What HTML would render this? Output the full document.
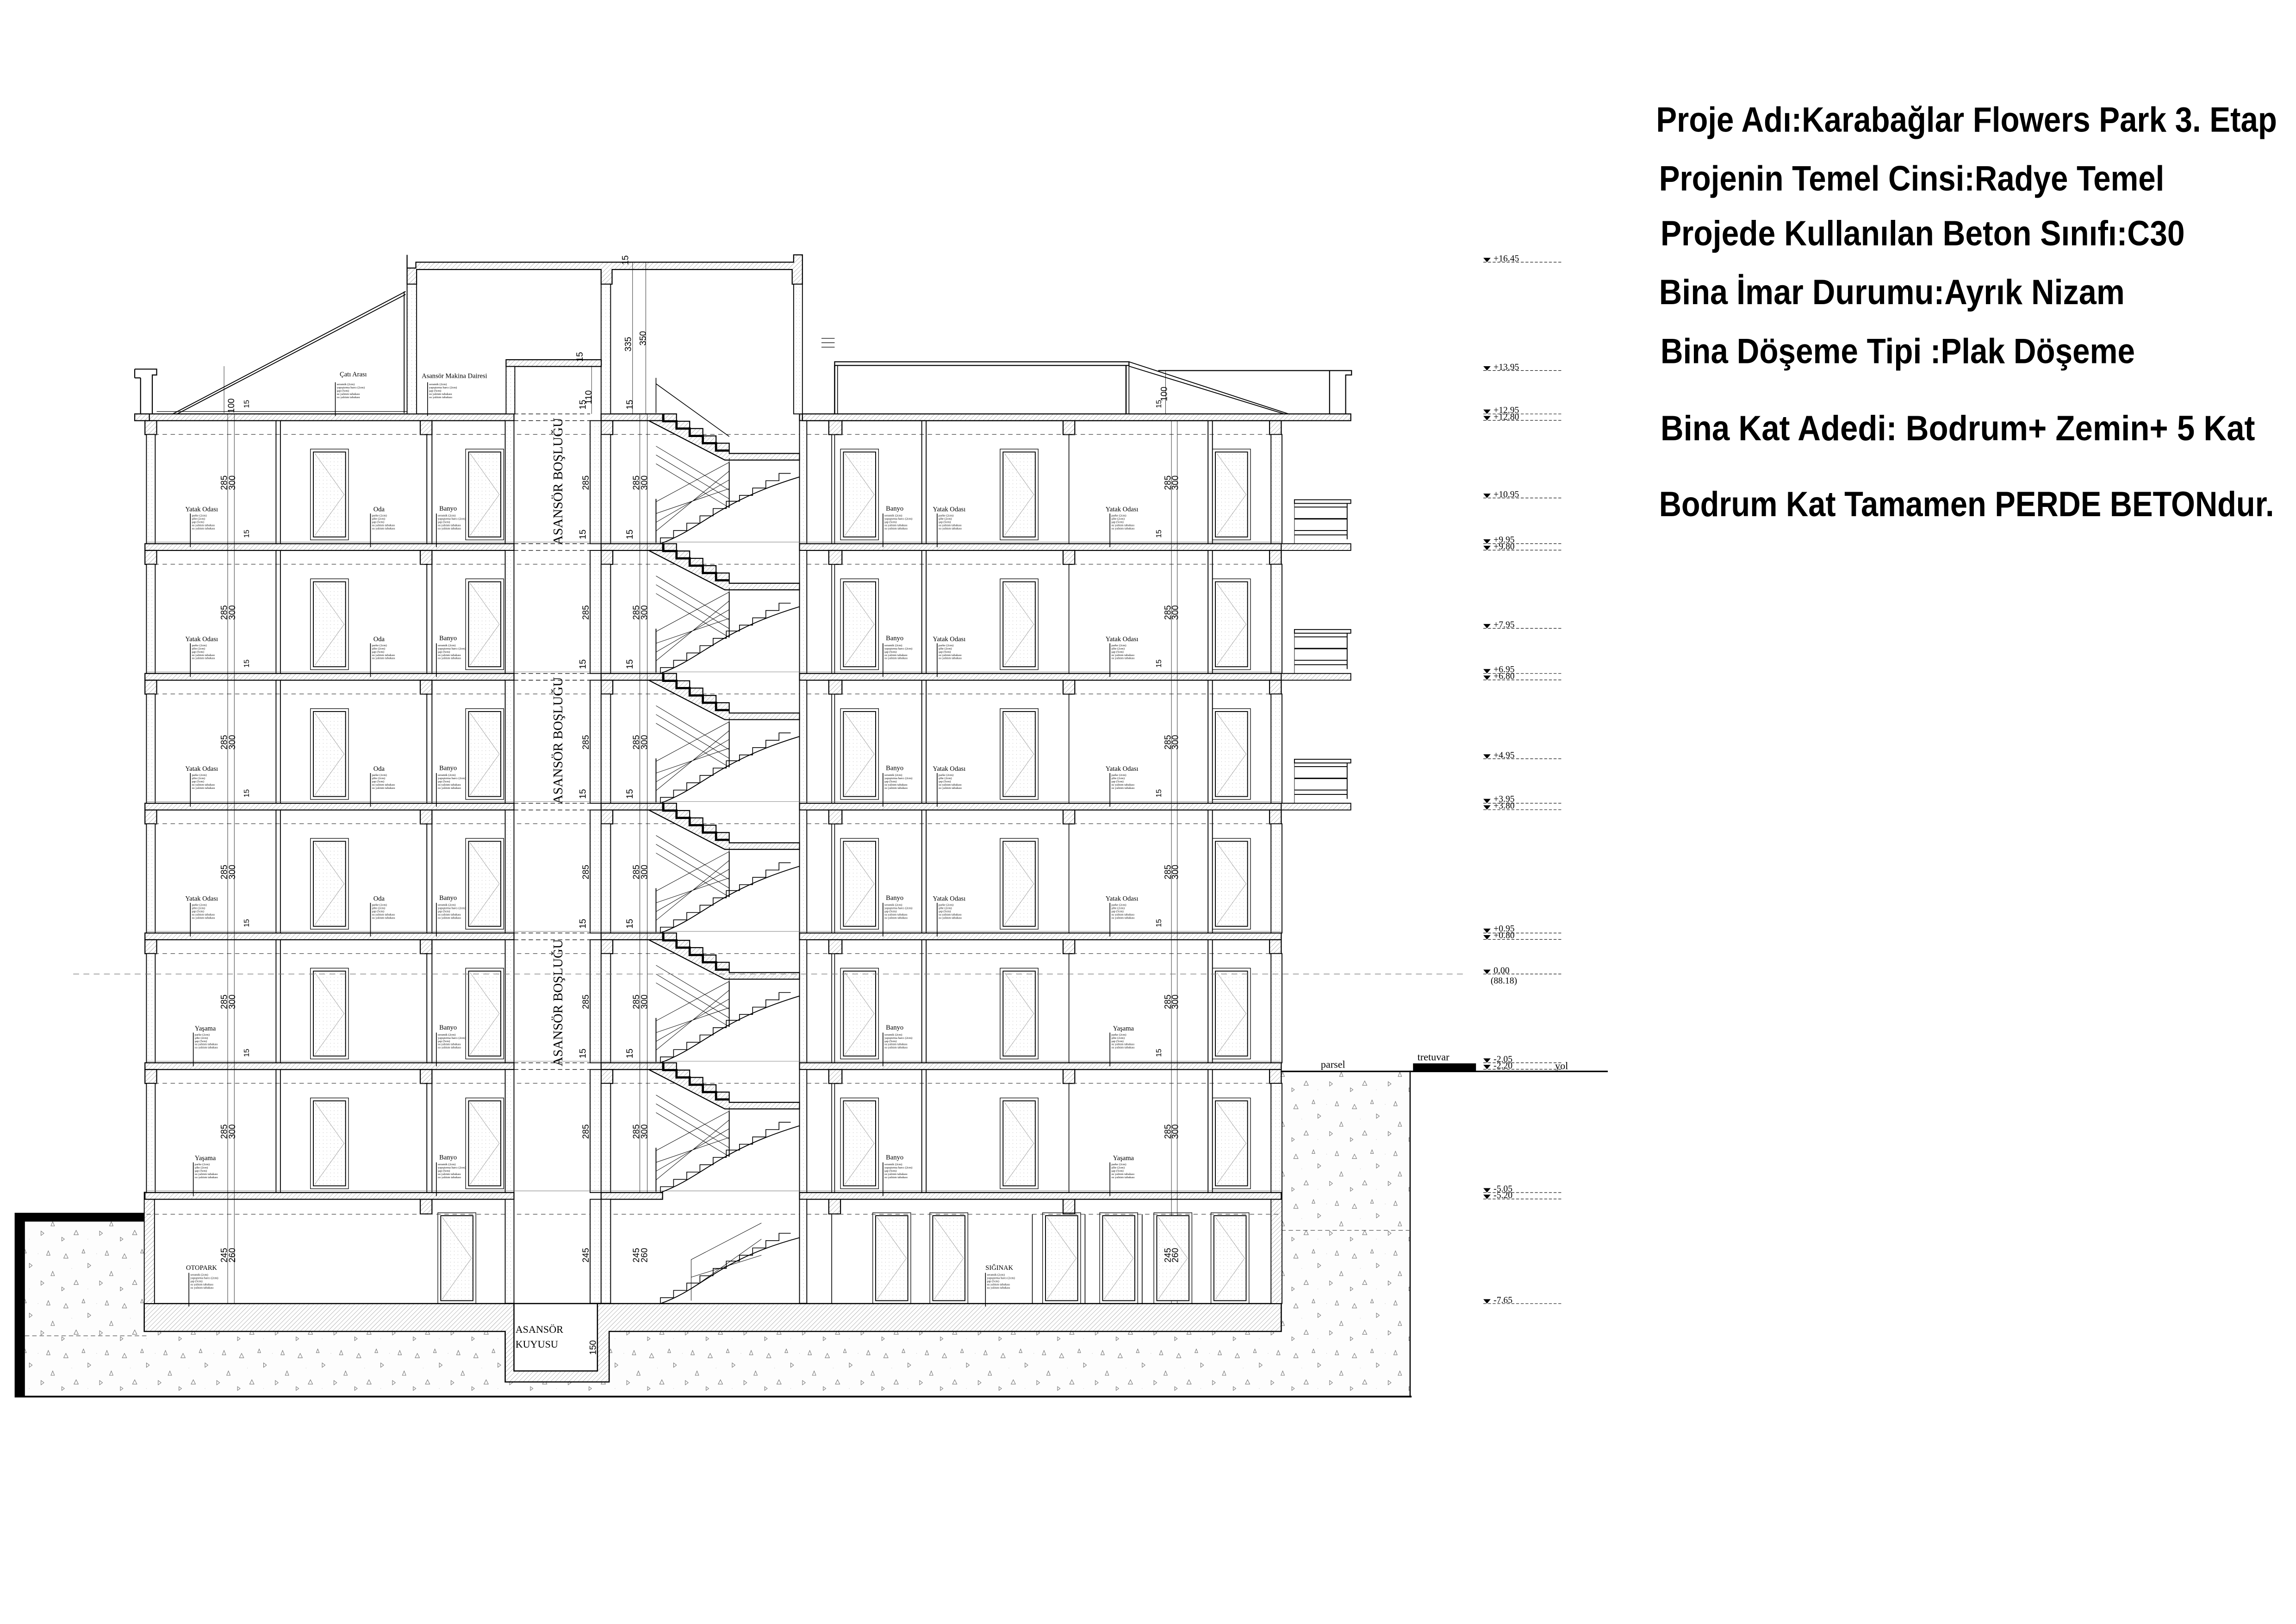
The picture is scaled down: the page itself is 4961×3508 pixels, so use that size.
<!DOCTYPE html>
<html><head><meta charset="utf-8"><style>
html,body{margin:0;padding:0;background:#fff}
svg{display:block}
.t{font-family:"Liberation Serif",serif;fill:#000}
.m{font-family:"Liberation Serif",serif;font-size:2.1px;fill:#000}
.d{font-family:"Liberation Sans",sans-serif;font-size:6px;fill:#000}
.h{font-family:"Liberation Sans Narrow","Liberation Sans",sans-serif;font-size:24px;fill:#000;font-weight:bold}
</style></head><body>
<svg width="4961" height="3508" viewBox="0 0 1568 1108.76" preserveAspectRatio="none" xmlns="http://www.w3.org/2000/svg">
<defs>
<pattern id="hat" width="2.2" height="2.2" patternUnits="userSpaceOnUse" patternTransform="rotate(45)">
<rect width="2.2" height="2.2" fill="#fff"/><line x1="0" y1="0" x2="0" y2="2.2" stroke="#555" stroke-width="0.25"/></pattern>
<pattern id="soil" width="40" height="34" patternUnits="userSpaceOnUse">
<rect width="40" height="34" fill="#fdfdfd"/>
<path d="M5 6l1.5 3h-3zM22 14l-2 1.5v-3zM33 4l1.2 3h-2.4zM12 24l1.5 3h-3zM30 26l-2 1.5v-3zM17 3l1 2.5h-2zM36 18l1.2 3h-2.4zM4 30l-1.8 1.3v-2.6z" fill="none" stroke="#666" stroke-width="0.3"/>
<circle cx="9" cy="16" r="0.2" fill="#bbb"/><circle cx="26" cy="6" r="0.2" fill="#bbb"/><circle cx="20" cy="30" r="0.2" fill="#bbb"/></pattern>
<pattern id="dots" width="2.5" height="2.5" patternUnits="userSpaceOnUse"><rect width="2.5" height="2.5" fill="#fff"/><circle cx="1.2" cy="1.2" r="0.15" fill="#777"/></pattern>

<g id="door">
<rect x="0" y="0" width="26" height="62" fill="none" stroke="#000" stroke-width="0.4"/>
<rect x="2" y="2" width="22" height="58" fill="url(#dots)" stroke="#000" stroke-width="0.6"/>
<path d="M3 3L23 31L3 59" fill="none" stroke="#777" stroke-width="0.2"/>
</g>

<g id="mat">
<line x1="0" y1="0" x2="0" y2="23" stroke="#000" stroke-width="0.5"/>
<text class="m" x="1" y="2">parke (2cm)</text><text class="m" x="1" y="4.2">şilte (2cm)</text><text class="m" x="1" y="6.4">şap (5cm)</text><text class="m" x="1" y="8.6">su yalıtım tabakası</text><text class="m" x="1" y="10.8">ısı yalıtım tabakası</text>
</g>
<g id="matb">
<line x1="0" y1="0" x2="0" y2="23" stroke="#000" stroke-width="0.5"/>
<text class="m" x="1" y="2">seramik (2cm)</text><text class="m" x="1" y="4.2">yapıştırma harcı (2cm)</text><text class="m" x="1" y="6.4">şap (5cm)</text><text class="m" x="1" y="8.6">su yalıtım tabakası</text><text class="m" x="1" y="10.8">ısı yalıtım tabakası</text>
</g>

<g id="fl" stroke="#000" stroke-width="0.7">
<rect x="99" y="0" width="252" height="4.6" fill="url(#hat)"/>
<rect x="410.5" y="0" width="42" height="4.6" fill="url(#hat)"/>
<rect x="546" y="0" width="329" height="4.6" fill="url(#hat)"/>
<line x1="351" y1="0" x2="403" y2="0" stroke-dasharray="3 2" stroke-width="0.4"/>
<line x1="351" y1="4.6" x2="403" y2="4.6" stroke-dasharray="3 2" stroke-width="0.4"/>
<rect x="99" y="4.6" width="8" height="9.5" fill="url(#hat)"/>
<rect x="287" y="4.6" width="8" height="9.5" fill="url(#hat)"/>
<rect x="566" y="4.6" width="9" height="9.5" fill="url(#hat)"/>
<rect x="726" y="4.6" width="8" height="9.5" fill="url(#hat)"/>
<rect x="867" y="4.6" width="8" height="9.5" fill="url(#hat)"/>
<rect x="410.5" y="4.6" width="8" height="9.5" fill="url(#hat)"/>
<line x1="100" y1="14" x2="875" y2="14" stroke-dasharray="3 2.5" stroke-width="0.4" stroke="#444"/>
<rect x="100" y="14" width="6" height="74.6" fill="url(#dots)" stroke-width="0.6"/>
<line x1="188.5" y1="4.6" x2="188.5" y2="88.6" stroke-width="0.6"/><line x1="191.5" y1="4.6" x2="191.5" y2="88.6" stroke-width="0.6"/>
<line x1="291.5" y1="14" x2="291.5" y2="88.6" stroke-width="0.6"/><line x1="295" y1="14" x2="295" y2="88.6" stroke-width="0.6"/>
<rect x="345" y="4.6" width="6" height="84" fill="url(#dots)" stroke-width="0.6"/>
<rect x="403" y="4.6" width="7.5" height="84" fill="url(#dots)" stroke-width="0.6"/>
<rect x="410.5" y="14" width="6.5" height="74.6" fill="url(#dots)" stroke-width="0.6"/>
<rect x="546" y="4.6" width="5" height="84" fill="url(#dots)" stroke-width="0.6"/>
<line x1="568" y1="14" x2="568" y2="88.6" stroke-width="0.5"/><line x1="570" y1="14" x2="570" y2="88.6" stroke-width="0.5"/>
<line x1="629.5" y1="4.6" x2="629.5" y2="88.6" stroke-width="0.6"/><line x1="632.5" y1="4.6" x2="632.5" y2="88.6" stroke-width="0.6"/>
<line x1="730" y1="14" x2="730" y2="88.6" stroke-width="0.5"/>
<line x1="825" y1="4.6" x2="825" y2="88.6" stroke-width="0.6"/><line x1="828" y1="4.6" x2="828" y2="88.6" stroke-width="0.6"/>
<rect x="868" y="14" width="7.5" height="74.6" fill="url(#dots)" stroke-width="0.6"/>
<line x1="100" y1="87.5" x2="875" y2="87.5" stroke-width="0.25" stroke="#666"/>
<line x1="155.5" y1="0" x2="155.5" y2="88.6" stroke-width="0.25"/><line x1="160" y1="0" x2="160" y2="88.6" stroke-width="0.25"/>
<line x1="800" y1="0" x2="800" y2="88.6" stroke-width="0.25"/><line x1="804" y1="0" x2="804" y2="88.6" stroke-width="0.25"/>
<line x1="437" y1="0" x2="437" y2="88.6" stroke-width="0.25"/><line x1="442" y1="0" x2="442" y2="88.6" stroke-width="0.25"/>
</g>
<g id="doors">
<use href="#door" x="212" y="24"/><use href="#door" x="318" y="24"/>
<use href="#door" x="574" y="24"/><use href="#door" x="683" y="24"/><use href="#door" x="828" y="24"/>
</g>
<g id="dims">
<text class="d" transform="translate(155,52) rotate(-90)">285</text>
<text class="d" transform="translate(160.5,52) rotate(-90)">300</text>
<text class="d" transform="translate(402,52) rotate(-90)">285</text>
<text class="d" transform="translate(436.5,52) rotate(-90)">285</text>
<text class="d" transform="translate(442,52) rotate(-90)">300</text>
<text class="d" transform="translate(799.5,52) rotate(-90)">285</text>
<text class="d" transform="translate(804.5,52) rotate(-90)">300</text>
<text class="d" transform="translate(400,-3) rotate(-90)">15</text>
<text class="d" transform="translate(432,-3) rotate(-90)">15</text>
<text class="d" transform="translate(170,-4) rotate(-90)" style="font-size:5px">15</text>
<text class="d" transform="translate(793,-4) rotate(-90)" style="font-size:5px">15</text>
</g>
<g id="st" stroke="#000">
<path d="M443 4.6L453 4.6L453 0L462 0L462 5L471 5L471 10L480 10L480 15L489 15L489 20L498 20L498 27L546 27L546 31.5L495 31.5Z" fill="url(#hat)" stroke-width="0.7"/>
<path d="M453 0v5h9v5h9v5h9v5h9v5h9" fill="none" stroke-width="1.5"/>
<path d="M451 88.6l0-4h9l0-5h9l0-5h9l0-5h9l0-5h9l0-5h9 l0-4h9l0-5h9l0-5h9l0-5h8" fill="none" stroke-width="0.5"/>
<path d="M451 88.6C480 78 490 60 546 43" fill="none" stroke-width="0.6"/>
<path d="M448 86L448 60L498 33M448 80L498 39M448 74L498 45M448 68L498 51" fill="none" stroke-width="0.3"/>
<path d="M448 28L498 58M448 34L498 64M448 22L498 52L498 30" fill="none" stroke-width="0.3"/>
<line x1="448" y1="58" x2="448" y2="88" stroke-width="0.6"/>
<line x1="498" y1="33" x2="498" y2="64" stroke-width="0.6"/>
</g>
<g id="bal" stroke="#000" stroke-width="0.6" fill="none">
<rect x="875" y="0" width="47.5" height="4.6" fill="url(#hat)"/>
<rect x="884" y="-30" width="38.5" height="2.5" fill="#fff"/>
<line x1="884" y1="-30" x2="884" y2="0" stroke-width="0.3"/>
<line x1="920" y1="-27.5" x2="920" y2="-3"/>
<line x1="884" y1="-25" x2="920" y2="-25"/><line x1="884" y1="-17" x2="920" y2="-17" stroke-width="0.9"/>
<line x1="884" y1="-9" x2="920" y2="-9"/><line x1="884" y1="-6" x2="920" y2="-6"/>
</g>
<g id="lab1">
<text class="t" x="126.5" y="66.5" style="font-size:4.6px">Yatak Odası</text><use href="#mat" x="130" y="68"/>
<text class="t" x="255" y="66.5" style="font-size:4.6px">Oda</text><use href="#mat" x="253" y="68"/>
<text class="t" x="300" y="66" style="font-size:4.6px">Banyo</text><use href="#matb" x="298" y="68"/>
<text class="t" x="605" y="66" style="font-size:4.6px">Banyo</text><use href="#matb" x="603" y="68"/>
<text class="t" x="637" y="66.5" style="font-size:4.6px">Yatak Odası</text><use href="#mat" x="640" y="68"/>
<text class="t" x="755" y="66.5" style="font-size:4.6px">Yatak Odası</text><use href="#mat" x="758" y="68"/>
</g>
<g id="lab3">
<text class="t" x="133" y="66.5" style="font-size:4.6px">Yaşama</text><use href="#mat" x="132" y="68"/>
<text class="t" x="300" y="66" style="font-size:4.6px">Banyo</text><use href="#matb" x="298" y="68"/>
<text class="t" x="605" y="66" style="font-size:4.6px">Banyo</text><use href="#matb" x="603" y="68"/>
<text class="t" x="760" y="66.5" style="font-size:4.6px">Yaşama</text><use href="#mat" x="758" y="68"/>
</g>
<g id="lv"><path d="M1013 0h5l-2.5 3z" fill="#000"/><line x1="1013" y1="3" x2="1067" y2="3" stroke="#000" stroke-width="0.35" stroke-dasharray="2 1.2"/></g>
</defs>

<rect width="1568" height="1108.76" fill="#fff"/>

<rect x="17" y="834" width="946" height="119" fill="url(#soil)"/>
<rect x="875" y="731" width="88" height="222" fill="url(#soil)"/>
<line x1="963" y1="731" x2="963" y2="953" stroke="#000" stroke-width="0.8"/>
<line x1="10" y1="953.5" x2="964" y2="953.5" stroke="#000" stroke-width="1.2"/>
<path d="M10 828H100V834H17V953H10Z" fill="#000"/>
<line x1="17" y1="912" x2="100" y2="912" stroke="#555" stroke-width="0.4" stroke-dasharray="3 2"/>
<line x1="875" y1="840" x2="963" y2="840" stroke="#555" stroke-width="0.4" stroke-dasharray="3 2"/>

<rect x="98.5" y="819" width="776.5" height="90" fill="#fff"/>
<path d="M98.5 890H875V909H416V943.5H345V909H98.5Z" fill="url(#hat)" stroke="#000" stroke-width="0.8"/>
<rect x="351" y="890" width="57" height="46" fill="#fff" stroke="#000" stroke-width="0.8"/>
<rect x="98.5" y="814" width="7" height="76" fill="url(#hat)" stroke="#000" stroke-width="0.6"/>
<rect x="868" y="814" width="7.5" height="76" fill="url(#hat)" stroke="#000" stroke-width="0.6"/>
<text class="t" x="352" y="910" style="font-size:7px">ASANSÖR</text>
<text class="t" x="352" y="920" style="font-size:7px">KUYUSU</text>
<text class="d" transform="translate(407,925) rotate(-90)">150</text>

<use href="#fl" y="282.6"/><use href="#fl" y="371.2"/><use href="#fl" y="459.8"/><use href="#fl" y="548.4"/><use href="#fl" y="637"/><use href="#fl" y="725.6"/>
<use href="#doors" y="282.6"/><use href="#doors" y="371.2"/><use href="#doors" y="459.8"/><use href="#doors" y="548.4"/><use href="#doors" y="637"/><use href="#doors" y="725.6"/>
<use href="#dims" y="282.6"/><use href="#dims" y="371.2"/><use href="#dims" y="459.8"/><use href="#dims" y="548.4"/><use href="#dims" y="637"/><use href="#dims" y="725.6"/>
<use href="#st" y="282.6"/><use href="#st" y="371.2"/><use href="#st" y="459.8"/><use href="#st" y="548.4"/><use href="#st" y="637"/><use href="#st" y="725.6"/>

<g stroke="#000" stroke-width="0.7">
<rect x="99" y="814.2" width="252" height="4.6" fill="url(#hat)"/>
<rect x="410.5" y="814.2" width="42" height="4.6" fill="url(#hat)"/>
<rect x="546" y="814.2" width="329" height="4.6" fill="url(#hat)"/>
<rect x="287" y="818.8" width="8" height="10" fill="url(#hat)"/>
<rect x="566" y="818.8" width="8" height="10" fill="url(#hat)"/>
<rect x="726" y="818.8" width="8" height="10" fill="url(#hat)"/>
<line x1="100" y1="829" x2="875" y2="829" stroke-dasharray="3 2.5" stroke-width="0.4" stroke="#444"/>
<rect x="345" y="818.8" width="6" height="71" fill="url(#dots)" stroke-width="0.6"/>
<rect x="403" y="818.8" width="7.5" height="71" fill="url(#dots)" stroke-width="0.6"/>
<rect x="410.5" y="818.8" width="6.5" height="71" fill="url(#dots)" stroke-width="0.6"/>
<rect x="546" y="818.8" width="5" height="71" fill="url(#dots)" stroke-width="0.6"/>
<line x1="568" y1="829" x2="568" y2="890" stroke-width="0.5"/>
<line x1="705" y1="829" x2="705" y2="890" stroke-width="0.5"/><line x1="741" y1="829" x2="741" y2="890" stroke-width="0.5"/><line x1="780" y1="829" x2="780" y2="890" stroke-width="0.5"/>
<line x1="155.5" y1="814" x2="155.5" y2="890" stroke-width="0.25"/><line x1="160" y1="814" x2="160" y2="890" stroke-width="0.25"/>
<line x1="800" y1="814" x2="800" y2="890" stroke-width="0.25"/><line x1="804" y1="814" x2="804" y2="890" stroke-width="0.25"/>
<path d="M451 890l0-4h9l0-5h9l0-5h9l0-5h9l0-5h9l0-5h9 l0-4h9l0-5h9l0-5h9l0-5h8" fill="none" stroke-width="0.5"/>
<path d="M451 890C480 880 490 860 546 845" fill="none" stroke-width="0.6"/>
<path d="M472 888L472 860L520 835M472 880L520 846M472 872L520 857" fill="none" stroke-width="0.3"/>
</g>
<use href="#door" x="299" y="828"/>
<use href="#door" x="596" y="828"/><use href="#door" x="635" y="828"/><use href="#door" x="712" y="828"/><use href="#door" x="751" y="828"/><use href="#door" x="788" y="828"/><use href="#door" x="827" y="828"/>
<text class="d" transform="translate(155,862) rotate(-90)">245</text>
<text class="d" transform="translate(160.5,862) rotate(-90)">260</text>
<text class="d" transform="translate(402,862) rotate(-90)">245</text>
<text class="d" transform="translate(436.5,862) rotate(-90)">245</text>
<text class="d" transform="translate(442,862) rotate(-90)">260</text>
<text class="d" transform="translate(799.5,862) rotate(-90)">245</text>
<text class="d" transform="translate(804.5,862) rotate(-90)">260</text>

<text class="t" transform="translate(384,372) rotate(-90)" style="font-size:9px">ASANSÖR BOŞLUĞU</text>
<text class="t" transform="translate(384,549) rotate(-90)" style="font-size:9px">ASANSÖR BOŞLUĞU</text>
<text class="t" transform="translate(384,728) rotate(-90)" style="font-size:9px">ASANSÖR BOŞLUĞU</text>

<use href="#bal" y="371.2"/><use href="#bal" y="459.8"/><use href="#bal" y="548.4"/>

<g stroke="#000" stroke-width="0.7" fill="none">
<path d="M92 252H107V256H104V282.6" />
<line x1="92" y1="252" x2="92" y2="258"/><line x1="92" y1="258" x2="96" y2="258"/><line x1="96" y1="258" x2="96" y2="282.6"/>
<rect x="92" y="282.6" width="10" height="4.6" fill="url(#hat)"/>
<line x1="107" y1="281" x2="278" y2="281" stroke-width="0.4"/>
<path d="M118 282.6L277 199M121 282.6L277 201" stroke-width="0.6"/>
<line x1="276" y1="199" x2="276" y2="282" stroke-width="0.6"/>
<line x1="153" y1="250" x2="153" y2="282" stroke-width="0.25"/>
<path d="M278 174V183H284V179H542V174H548V183V194H541V184H418V194H410.5V184H284.5V194H278Z" fill="url(#hat)"/>
<rect x="278" y="194" width="6.5" height="88.6" fill="url(#dots)" stroke-width="0.6"/>
<rect x="410.5" y="194" width="6.5" height="88.6" fill="url(#dots)" stroke-width="0.6"/>
<rect x="542" y="194" width="6" height="88.6" fill="url(#dots)" stroke-width="0.6"/>
<rect x="345.6" y="245.6" width="65" height="4.6" fill="url(#hat)"/>
<rect x="345.6" y="250.2" width="6" height="32.4" fill="url(#dots)" stroke-width="0.6"/>
<line x1="285" y1="179" x2="542" y2="179" stroke-width="0.3"/>
<line x1="432" y1="179" x2="432" y2="282.6" stroke-width="0.25"/><line x1="441" y1="179" x2="441" y2="282.6" stroke-width="0.25"/>
<line x1="404" y1="250" x2="404" y2="282.6" stroke-width="0.25"/>
<path d="M448 258L448 282M448 262L498 298" stroke-width="0.5"/>
<rect x="548" y="282.6" width="374.5" height="4.6" fill="url(#hat)"/>
<rect x="570" y="247" width="201" height="2.5" fill="#fff"/>
<line x1="570" y1="249.5" x2="570" y2="282.6" stroke-width="0.8"/><line x1="572" y1="249.5" x2="572" y2="282.6" stroke-width="0.5"/>
<line x1="769" y1="249.5" x2="769" y2="282.6" stroke-width="0.8"/><line x1="771" y1="249.5" x2="771" y2="282.6" stroke-width="0.5"/>
<path d="M771 247L880 282.6M771 250L877 282.6" stroke-width="0.6"/>
<path d="M791 253H908M908 253H923V256H919V282.6M908 253V282.6"/>
<line x1="561" y1="231" x2="570" y2="231" stroke-width="0.4"/><line x1="561" y1="234" x2="570" y2="234" stroke-width="0.4"/><line x1="561" y1="237" x2="570" y2="237" stroke-width="0.4"/>
<line x1="796" y1="253" x2="796" y2="282.6" stroke-width="0.25"/>
</g>
<text class="d" transform="translate(160,282) rotate(-90)">100</text>
<text class="d" transform="translate(797,274) rotate(-90)">100</text>
<text class="d" transform="translate(404,276) rotate(-90)">110</text>
<text class="d" transform="translate(431,240) rotate(-90)">335</text>
<text class="d" transform="translate(441,236) rotate(-90)">350</text>
<text class="d" transform="translate(429,181) rotate(-90)">15</text>
<text class="d" transform="translate(398,247) rotate(-90)">15</text>
<text class="t" x="232" y="257" style="font-size:4.6px">Çatı Arası</text>
<use href="#matb" x="229" y="261"/>
<text class="t" x="288" y="258" style="font-size:4.6px">Asansör Makina Dairesi</text>
<use href="#matb" x="292" y="261"/>

<use href="#lab1" y="282.6"/><use href="#lab1" y="371.2"/><use href="#lab1" y="459.8"/><use href="#lab1" y="548.4"/>
<use href="#lab3" y="637"/><use href="#lab3" y="725.6"/>
<text class="t" x="127" y="867" style="font-size:4.6px">OTOPARK</text><use href="#matb" x="129" y="869"/>
<text class="t" x="673" y="867" style="font-size:4.6px">SIĞINAK</text><use href="#matb" x="673" y="869"/>

<line x1="50" y1="665" x2="1000" y2="665" stroke="#777" stroke-width="0.4" stroke-dasharray="4 3"/>
<line x1="875" y1="731.5" x2="1098" y2="731.5" stroke="#000" stroke-width="1"/>
<rect x="965" y="726" width="43" height="6" fill="#000"/>
<text class="t" x="902" y="729" style="font-size:7px">parsel</text>
<text class="t" x="968" y="724" style="font-size:7px">tretuvar</text>
<text class="t" x="1062" y="730" style="font-size:7px">yol</text>

<g class="t" style="font-size:6.2px">
<use href="#lv" y="176"/><text x="1020" y="178.5">+16.45</text>
<use href="#lv" y="250"/><text x="1020" y="252.5">+13.95</text>
<use href="#lv" y="279.6"/><text x="1020" y="282">+12.95</text>
<use href="#lv" y="284"/><text x="1020" y="286.5">+12.80</text>
<use href="#lv" y="337"/><text x="1020" y="339.5">+10.95</text>
<use href="#lv" y="368.2"/><text x="1020" y="370.5">+9.95</text>
<use href="#lv" y="372.6"/><text x="1020" y="375">+9.80</text>
<use href="#lv" y="426"/><text x="1020" y="428.5">+7.95</text>
<use href="#lv" y="456.8"/><text x="1020" y="459">+6.95</text>
<use href="#lv" y="461.2"/><text x="1020" y="463.5">+6.80</text>
<use href="#lv" y="515"/><text x="1020" y="517.5">+4.95</text>
<use href="#lv" y="545.4"/><text x="1020" y="547.5">+3.95</text>
<use href="#lv" y="549.8"/><text x="1020" y="552">+3.80</text>
<use href="#lv" y="634"/><text x="1020" y="636">+0.95</text>
<use href="#lv" y="638.4"/><text x="1020" y="640.5">+0.80</text>
<use href="#lv" y="662"/><text x="1020" y="664.5">0.00</text><text x="1018" y="671.5">(88.18)</text>
<use href="#lv" y="722.6"/><text x="1020" y="725">-2.05</text>
<use href="#lv" y="727"/><text x="1020" y="729.5">-2.20</text>
<use href="#lv" y="811.2"/><text x="1020" y="813.5">-5.05</text>
<use href="#lv" y="815.6"/><text x="1020" y="818">-5.20</text>
<use href="#lv" y="887"/><text x="1020" y="889.5">-7.65</text>
</g>

<text class="h" x="1131" y="90" textLength="424" lengthAdjust="spacingAndGlyphs">Proje Adı:Karabağlar Flowers Park 3. Etap</text>
<text class="h" x="1133" y="130" textLength="345" lengthAdjust="spacingAndGlyphs">Projenin Temel Cinsi:Radye Temel</text>
<text class="h" x="1134" y="167.5" textLength="358" lengthAdjust="spacingAndGlyphs">Projede Kullanılan Beton Sınıfı:C30</text>
<text class="h" x="1133" y="207.7" textLength="318" lengthAdjust="spacingAndGlyphs">Bina İmar Durumu:Ayrık Nizam</text>
<text class="h" x="1134" y="248" textLength="324" lengthAdjust="spacingAndGlyphs">Bina Döşeme Tipi :Plak Döşeme</text>
<text class="h" x="1134" y="300.6" textLength="406" lengthAdjust="spacingAndGlyphs">Bina Kat Adedi: Bodrum+ Zemin+ 5 Kat</text>
<text class="h" x="1133" y="352.4" textLength="420" lengthAdjust="spacingAndGlyphs">Bodrum Kat Tamamen PERDE BETONdur.</text>
</svg>
</body></html>
